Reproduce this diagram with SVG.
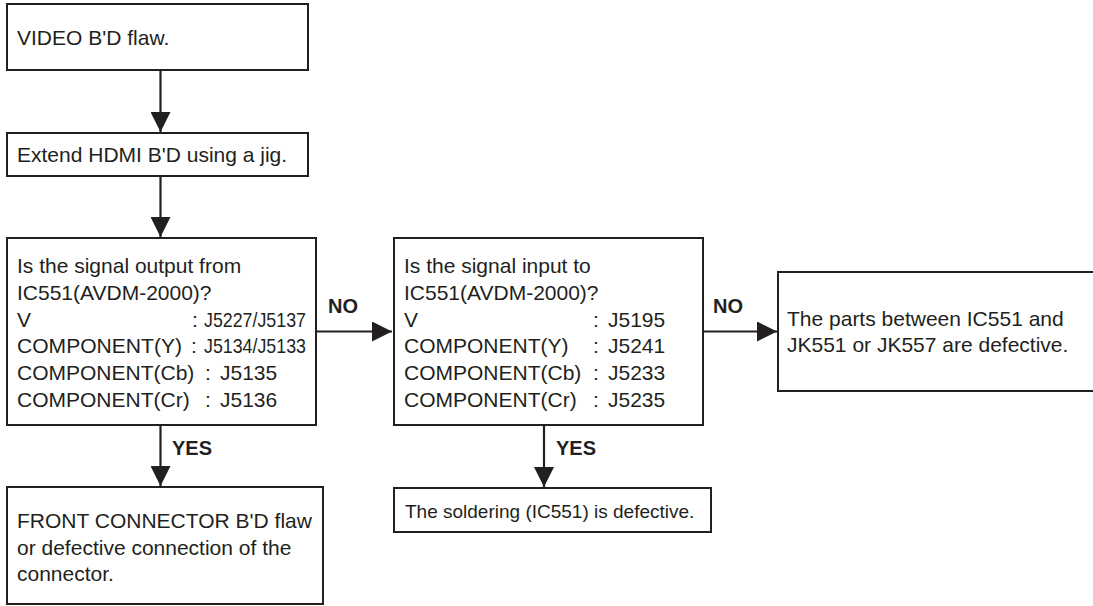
<svg xmlns="http://www.w3.org/2000/svg" width="1093" height="606" viewBox="0 0 1093 606">
<style>
rect{fill:#fff;stroke:#231f20;stroke-width:2}
text{font-family:"Liberation Sans",Arial,sans-serif;font-size:21px;fill:#231f20}
.s{font-size:19px}
.b{font-weight:bold;font-size:20px}
.c line{stroke:#231f20;stroke-width:2.2}
</style>
<defs>
<marker id="ah" viewBox="0 0 20 20" refX="20" refY="10" markerWidth="20" markerHeight="20" markerUnits="userSpaceOnUse" orient="auto">
<path d="M0,0 L20,10 L0,20 Z" fill="#231f20"/>
</marker>
</defs>
<g class="c">
<line x1="160.5" y1="70" x2="160.5" y2="132" marker-end="url(#ah)"/>
<line x1="160.5" y1="176" x2="160.5" y2="237" marker-end="url(#ah)"/>
<line x1="316" y1="331.5" x2="392" y2="331.5" marker-end="url(#ah)"/>
<line x1="703" y1="331.5" x2="777" y2="331.5" marker-end="url(#ah)"/>
<line x1="160.5" y1="425" x2="160.5" y2="486" marker-end="url(#ah)"/>
<line x1="544" y1="425" x2="544" y2="487" marker-end="url(#ah)"/>
<text class="b" x="328" y="313">NO</text>
<text class="b" x="713" y="313">NO</text>
<text class="b" x="172" y="455">YES</text>
<text class="b" x="556" y="455">YES</text>
</g>
<g id="n1">
<rect x="7" y="4" width="301" height="66"/>
<text x="17" y="45">VIDEO B'D flaw.</text>
</g>
<g id="n2">
<rect x="7" y="133" width="301" height="43"/>
<text x="17" y="162">Extend HDMI B'D using a jig.</text>
</g>
<g id="n3">
<rect x="7" y="238" width="309" height="187"/>
<text x="17" y="273">Is the signal output from</text>
<text x="17" y="300">IC551(AVDM-2000)?</text>
<text x="17" y="327">V</text>
<text x="192" y="327">:</text>
<text x="204" y="327" textLength="102" lengthAdjust="spacingAndGlyphs">J5227/J5137</text>
<text x="17" y="353" textLength="165" lengthAdjust="spacingAndGlyphs">COMPONENT(Y)</text>
<text x="191" y="353">:</text>
<text x="204" y="353" textLength="102" lengthAdjust="spacingAndGlyphs">J5134/J5133</text>
<text x="17" y="380">COMPONENT(Cb)</text>
<text x="205" y="380">:</text>
<text x="220" y="380">J5135</text>
<text x="17" y="407">COMPONENT(Cr)</text>
<text x="205" y="407">:</text>
<text x="220" y="407">J5136</text>
</g>
<g id="n4">
<rect x="394" y="238" width="309" height="187"/>
<text x="404" y="273">Is the signal input to</text>
<text x="404" y="300">IC551(AVDM-2000)?</text>
<text x="404" y="327">V</text>
<text x="593" y="327">:</text>
<text x="608" y="327">J5195</text>
<text x="404" y="353">COMPONENT(Y)</text>
<text x="593" y="353">:</text>
<text x="608" y="353">J5241</text>
<text x="404" y="380">COMPONENT(Cb)</text>
<text x="593" y="380">:</text>
<text x="608" y="380">J5233</text>
<text x="404" y="407">COMPONENT(Cr)</text>
<text x="593" y="407">:</text>
<text x="608" y="407">J5235</text>
</g>
<g id="n5">
<rect x="778" y="272" width="330" height="119"/>
<text x="787" y="326">The parts between IC551 and</text>
<text x="787" y="352">JK551 or JK557 are defective.</text>
</g>
<g id="n6">
<rect x="7" y="487" width="316" height="117"/>
<text x="17" y="528">FRONT CONNECTOR B'D flaw</text>
<text x="17" y="555">or defective connection of the</text>
<text x="17" y="581">connector.</text>
</g>
<g id="n7">
<rect x="394" y="488" width="317" height="44"/>
<text class="s" x="405" y="518">The soldering (IC551) is defective.</text>
</g>
</svg>
